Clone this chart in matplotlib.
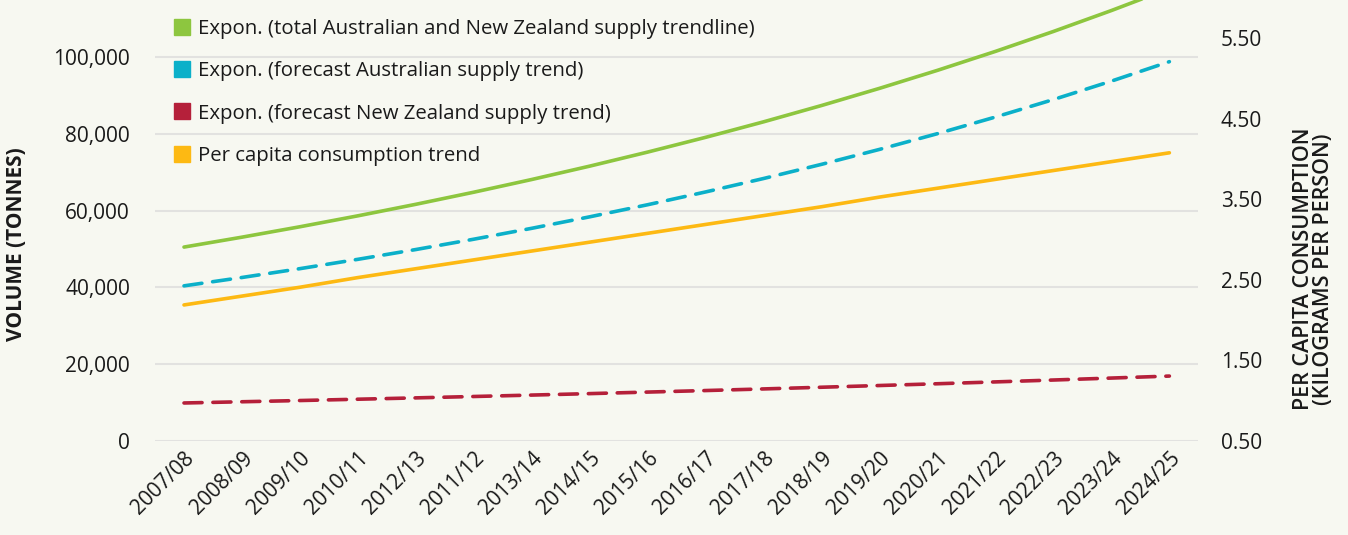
import numpy as np
import matplotlib
matplotlib.use('Agg')
import matplotlib.pyplot as plt
from matplotlib.lines import Line2D

years = ['2007/08', '2008/09', '2009/10', '2010/11', '2012/13', '2011/12',
         '2013/14', '2014/15', '2015/16', '2016/17', '2017/18', '2018/19',
         '2019/20', '2020/21', '2021/22', '2022/23', '2023/24', '2024/25']

# tonnes
total_supply = [50500, 53080, 55790, 58640, 61640, 64790, 68100, 71580, 75240,
                79080, 83120, 87370, 91840, 96530, 101460, 106650, 112100, 117830]
aus_supply = [40400, 42580, 44880, 47310, 49860, 52550, 55390, 58380, 61530,
              64860, 68360, 72050, 75940, 80040, 84370, 88920, 93720, 98780]
nz_supply = [9900, 10220, 10540, 10880, 11230, 11590, 11960, 12340, 12740,
             13140, 13560, 14000, 14450, 14910, 15390, 15880, 16390, 16910]
# kg per person
per_capita = [2.19, 2.30, 2.41, 2.53, 2.64, 2.75, 2.86, 2.97, 3.08,
              3.19, 3.30, 3.41, 3.53, 3.64, 3.75, 3.86, 3.97, 4.08]

left_ticks = [0, 20000, 40000, 60000, 80000, 100000]
right_ticks = [0.5, 1.5, 2.5, 3.5, 4.5, 5.5]

green = '#8dc63f'
blue = '#0bb0c9'
red = '#b5203a'
yellow = '#fdb913'
bg = '#f7f8f1'
txt = '#1a1a1a'

plt.rcParams['font.family'] = ['Open Sans', 'DejaVu Sans']

fig = plt.figure(figsize=(13.48, 5.35), dpi=100, facecolor=bg)
ax = fig.add_axes([0.115, 0.1757, 0.774, 0.8243])
ax.set_facecolor(bg)
ax2 = ax.twinx()

x = np.arange(len(years))
ax.plot(x, total_supply, color=green, lw=2.6, solid_capstyle='round')
ax.plot(x, aus_supply, color=blue, lw=2.6, dashes=(5, 3), dash_capstyle='round')
ax.plot(x, nz_supply, color=red, lw=2.6, dashes=(5, 3), dash_capstyle='round')
ax2.plot(x, per_capita, color=yellow, lw=2.6, solid_capstyle='round')

ax.set_xlim(-0.5, len(years) - 0.5)
ax.set_ylim(0, 114840)
ax2.set_ylim(0.5, 5.978)

ax.set_yticks(left_ticks)
ax.set_yticklabels([f'{v:,}' for v in left_ticks])
ax2.set_yticks(right_ticks)
ax2.set_yticklabels([f'{v:.2f}' for v in right_ticks])
ax.set_xticks(x)
ax.set_xticklabels(years, rotation=45, ha='right', rotation_mode='anchor')

ax.grid(axis='y', color='#e2e2e0', lw=1.5)
ax.set_axisbelow(True)
for a in (ax, ax2):
    for s in a.spines.values():
        s.set_visible(False)
    a.tick_params(length=0, labelsize=15, colors=txt)
ax.tick_params(axis='y', pad=18)
ax.tick_params(axis='x', pad=5)
ax2.tick_params(axis='y', pad=16)

ax.set_ylabel('VOLUME (TONNES)', fontsize=15, fontweight='bold', color=txt)
ax.yaxis.set_label_coords(-0.123, 0.447)
ax2.set_ylabel('PER CAPITA CONSUMPTION\n(KILOGRAMS PER PERSON)', fontsize=15.5,
               fontweight='semibold', color=txt, rotation=90, linespacing=0.9)
ax2.yaxis.set_label_coords(1.091, 0.39)

labels = ['Expon. (total Australian and New Zealand supply trendline)',
          'Expon. (forecast Australian supply trend)',
          'Expon. (forecast New Zealand supply trend)',
          'Per capita consumption trend']
handles = [Line2D([], [], ls='none', marker='s', markersize=11, color=c)
           for c in (green, blue, red, yellow)]
leg = ax2.legend(handles, labels, loc='upper left', bbox_to_anchor=(0.004, 0.99),
                 frameon=False, fontsize=14.7, handlelength=0.8, handletextpad=0.4,
                 labelspacing=1.1, borderaxespad=0.3)
for t in leg.get_texts():
    t.set_color(txt)

fig.savefig('out.png', dpi=100, facecolor=bg)
